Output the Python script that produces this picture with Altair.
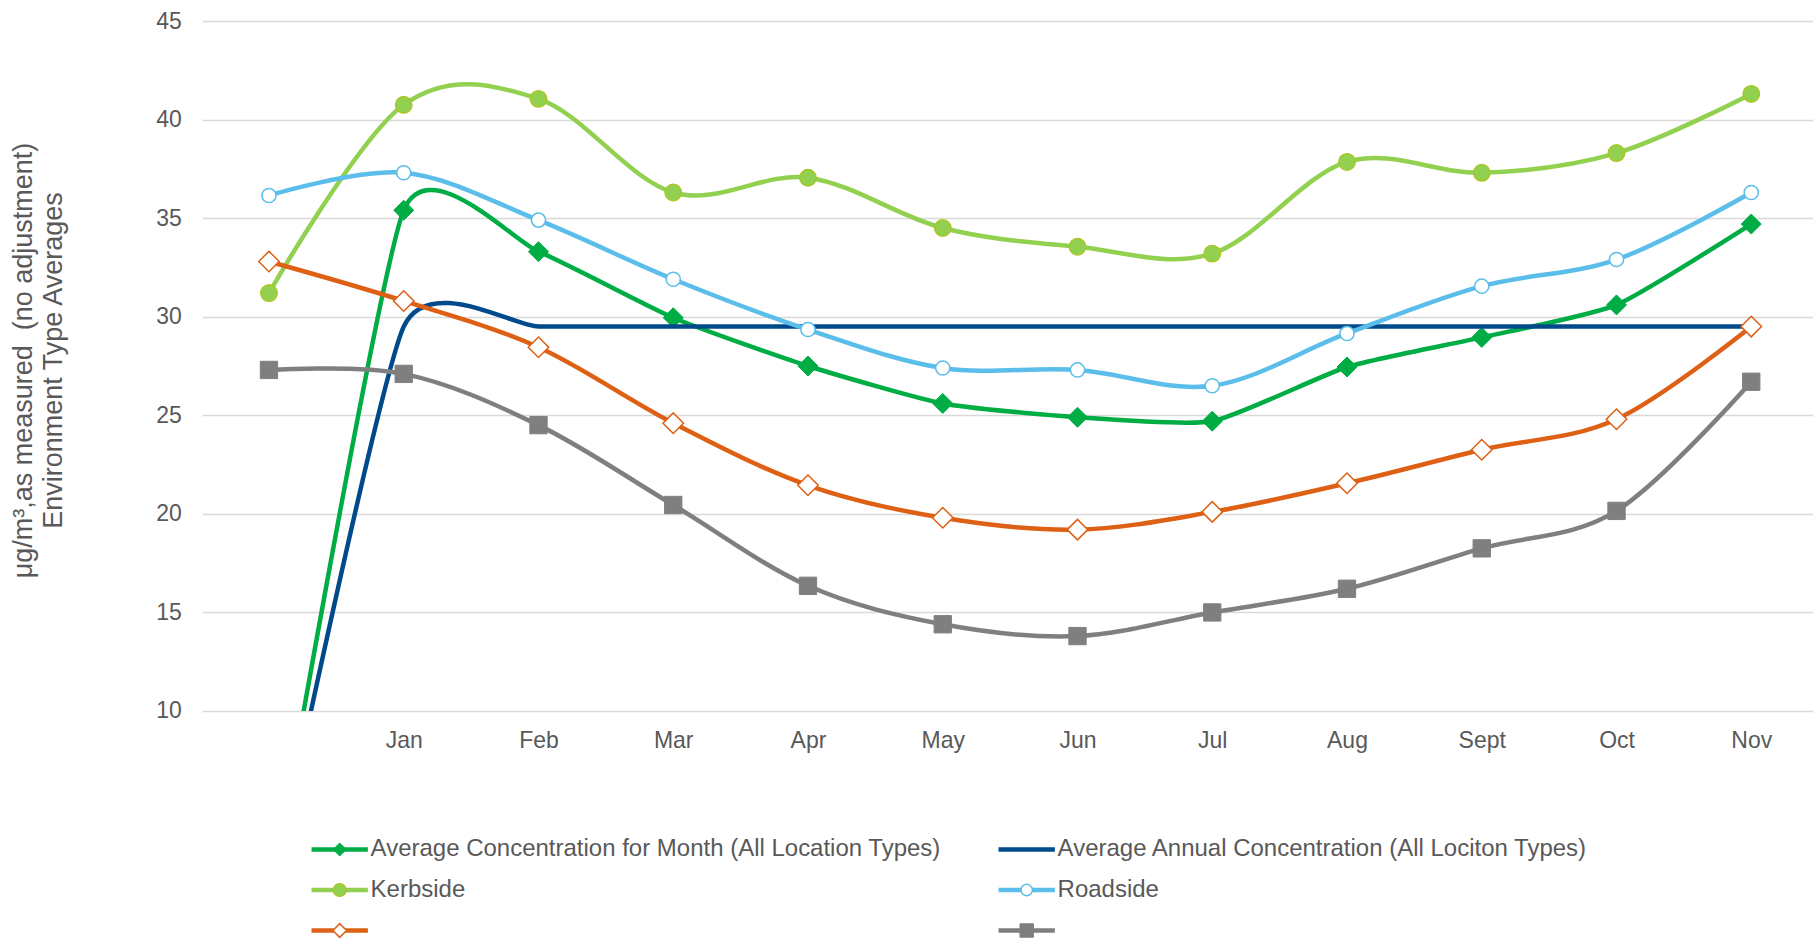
import json
import altair as alt
import pandas as pd

# ---------------- data ----------------
MONTHS = ["", "Jan", "Feb", "Mar", "Apr", "May", "Jun", "Jul", "Aug", "Sept", "Oct", "Nov"]

SERIES_KEYS = ["month_avg", "annual_avg", "kerbside", "roadside", "series5", "series6"]
SERIES_LABELS = [
    "Average Concentration for Month (All Location Types)",
    "Average Annual Concentration (All Lociton Types)",
    "Kerbside",
    "Roadside",
    "",
    "",
]

MONTH_AVG = [0, 35.4, 33.3, 29.95, 27.5, 25.6, 24.9, 24.7, 27.45, 28.95, 30.6, 34.7]
ANNUAL_AVG = [0, 29.5, 29.5, 29.5, 29.5, 29.5, 29.5, 29.5, 29.5, 29.5, 29.5, 29.5]
KERBSIDE = [31.2, 40.75, 41.05, 36.3, 37.05, 34.5, 33.55, 33.2, 37.85, 37.3, 38.3, 41.3]
ROADSIDE = [36.15, 37.3, 34.9, 31.9, 29.35, 27.4, 27.3, 26.5, 29.15, 31.55, 32.9, 36.3]
SERIES5 = [32.8, 30.8, 28.45, 24.6, 21.45, 19.8, 19.2, 20.1, 21.55, 23.25, 24.8, 29.5]
SERIES6 = [27.3, 27.1, 24.5, 20.45, 16.35, 14.4, 13.8, 15.0, 16.2, 18.25, 20.15, 26.7]

VALUES = [MONTH_AVG, ANNUAL_AVG, KERBSIDE, ROADSIDE, SERIES5, SERIES6]

# legend placement (column / row of each entry)
LEGEND_COL = [0, 1, 0, 1, 0, 1]
LEGEND_ROW = [0, 0, 1, 1, 2, 2]

# ---------------- styles ----------------
LINE_COLORS = ["#00AD45", "#004A8C", "#92D050", "#5BBDE9", "#DD6014", "#7F7F7F"]
LINE_TENSION = [0.45, 0.45, 0, 0, 0, 0]
MARK_SHAPES = ["diamond", None, "circle", "circle", "diamond", "square"]
MARK_FILLS = ["#00AD45", None, "#92D050", "#FFFFFF", "#FFFFFF", "#7F7F7F"]
MARK_STROKES = ["#00AD45", None, "#B3C21E", "#5BBDE9", "#DD6014", "#7F7F7F"]
MARK_SIZES = [400, 0, 280, 200, 420, 300]
MARK_SW = [1, 0, 1.2, 1.5, 1.5, 1]
LEG_SIZES = [170, 0, 170, 130, 190, 180]

TEXT_COLOR = "#595959"
FONT = "Liberation Sans"

rows = []
for key, vals in zip(SERIES_KEYS, VALUES):
    for i, v in enumerate(vals):
        rows.append({"i": i, "series": key, "value": v})
df = pd.DataFrame(rows)

label_expr = json.dumps(MONTHS) + "[datum.value]"

x_enc = alt.X(
    "i:O",
    scale=alt.Scale(padding=0.4776, align=0.518),
    axis=alt.Axis(
        labelExpr=label_expr,
        labelAngle=0,
        ticks=False,
        domain=False,
        grid=False,
        title=None,
        labelFontSize=23,
        labelColor=TEXT_COLOR,
        labelPadding=19,
        labelFont=FONT,
    ),
)
y_enc = alt.Y(
    "value:Q",
    scale=alt.Scale(domain=[10, 45], nice=False, zero=False),
    axis=alt.Axis(
        values=list(range(10, 50, 5)),
        ticks=False,
        domain=False,
        gridColor="#D9D9D9",
        gridWidth=1.5,
        labelFontSize=23,
        labelColor=TEXT_COLOR,
        labelPadding=21,
        labelFont=FONT,
        title=["μg/m³,as measured\u00a0 (no adjustment)", "Environment Type Averages"],
        titleFontSize=27,
        titleFontWeight="normal",
        titleColor=TEXT_COLOR,
        titleFont=FONT,
        titlePadding=88.2,
        titleLineHeight=30,
        titleY=339,
    ),
)

base = alt.Chart(df).encode(x=x_enc, y=y_enc)

layers = []
for k, key in enumerate(SERIES_KEYS):
    sub = base.transform_filter(alt.datum.series == key)
    layers.append(
        sub.mark_line(
            interpolate="cardinal",
            tension=LINE_TENSION[k],
            strokeWidth=4.5,
            color=LINE_COLORS[k],
            clip=True,
        )
    )
    if MARK_SHAPES[k]:
        layers.append(
            sub.mark_point(
                shape=MARK_SHAPES[k],
                size=MARK_SIZES[k],
                filled=True,
                fill=MARK_FILLS[k],
                stroke=MARK_STROKES[k],
                strokeWidth=MARK_SW[k],
                opacity=1,
                clip=True,
            )
        )

main = alt.layer(*layers).properties(width=1611, height=690)

# ---------------- legend ----------------
leg_df = pd.DataFrame(
    {
        "series": SERIES_KEYS,
        "label": SERIES_LABELS,
        "col": LEGEND_COL,
        "row": LEGEND_ROW,
    }
)

lx = alt.Scale(domain=[-0.159, 2.186], nice=False, zero=False)
ly = alt.Scale(domain=[0, 2], reverse=True, nice=False, zero=False)
col_scale = alt.Scale(domain=SERIES_KEYS, range=LINE_COLORS)

leg_base = alt.Chart(leg_df).transform_calculate(
    x_end="datum.col + 0.082", x_mid="datum.col + 0.041", x_text="datum.col + 0.086"
)

leg_rule = leg_base.mark_rule(strokeWidth=4.5).encode(
    x=alt.X("col:Q", scale=lx, axis=None),
    x2="x_end:Q",
    y=alt.Y("row:Q", scale=ly, axis=None),
    color=alt.Color("series:N", scale=col_scale, legend=None),
)

leg_layers = [leg_rule]
for k, key in enumerate(SERIES_KEYS):
    if MARK_SHAPES[k]:
        leg_layers.append(
            leg_base.transform_filter(alt.datum.series == key)
            .mark_point(
                shape=MARK_SHAPES[k],
                size=LEG_SIZES[k],
                filled=True,
                fill=MARK_FILLS[k],
                stroke=MARK_STROKES[k],
                strokeWidth=MARK_SW[k],
                opacity=1,
            )
            .encode(
                x=alt.X("x_mid:Q", scale=lx, axis=None),
                y=alt.Y("row:Q", scale=ly, axis=None),
            )
        )

leg_text = leg_base.mark_text(
    align="left", baseline="middle", fontSize=24, font=FONT, color=TEXT_COLOR
).encode(
    x=alt.X("x_text:Q", scale=lx, axis=None),
    y=alt.Y("row:Q", scale=ly, axis=None),
    text="label:N",
)
leg_layers.append(leg_text)

legend = alt.layer(*leg_layers).properties(width=1611, height=81)

chart = (
    alt.vconcat(main, legend, spacing=138.5, bounds="flush")
    .properties(padding={"left": 9.3, "top": 10, "right": 0, "bottom": 0})
    .configure(font=FONT, background="#FFFFFF")
    .configure_view(strokeWidth=0, stroke="transparent")
)

chart.save("out.html", embed_options={"renderer": "svg", "actions": False})
